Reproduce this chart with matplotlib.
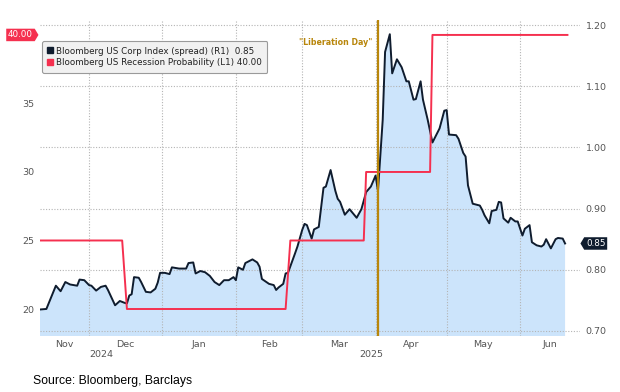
import matplotlib
matplotlib.use('Agg')
import matplotlib.pyplot as plt
import matplotlib.dates as mdates
import matplotlib.transforms as mtrans
from matplotlib.lines import Line2D
from matplotlib.path import Path
import pandas as pd

# Bloomberg US Corp Index OAS (right axis, %)
spread_dates = [
    '2024-11-10', '2024-11-13', '2024-11-15', '2024-11-17', '2024-11-19', '2024-11-21',
    '2024-11-23', '2024-11-26', '2024-11-27', '2024-11-29', '2024-12-01', '2024-12-02',
    '2024-12-04', '2024-12-06', '2024-12-08', '2024-12-09', '2024-12-12', '2024-12-14',
    '2024-12-16', '2024-12-17', '2024-12-18', '2024-12-19', '2024-12-20', '2024-12-22',
    '2024-12-23', '2024-12-25', '2024-12-27', '2024-12-29', '2024-12-30', '2024-12-31',
    '2025-01-02', '2025-01-04', '2025-01-05', '2025-01-08', '2025-01-11', '2025-01-12',
    '2025-01-14', '2025-01-15', '2025-01-17', '2025-01-19', '2025-01-21', '2025-01-23',
    '2025-01-25', '2025-01-27', '2025-01-29', '2025-01-31', '2025-02-01', '2025-02-02',
    '2025-02-04', '2025-02-05', '2025-02-08', '2025-02-10', '2025-02-11', '2025-02-12',
    '2025-02-15', '2025-02-17', '2025-02-18', '2025-02-19', '2025-02-21', '2025-02-22',
    '2025-02-23', '2025-02-25', '2025-02-26', '2025-02-27', '2025-03-01', '2025-03-02',
    '2025-03-03', '2025-03-05', '2025-03-06', '2025-03-08', '2025-03-10', '2025-03-11',
    '2025-03-13', '2025-03-15', '2025-03-16', '2025-03-17', '2025-03-19', '2025-03-21',
    '2025-03-24', '2025-03-26', '2025-03-28', '2025-03-30', '2025-04-01', '2025-04-02',
    '2025-04-04', '2025-04-05', '2025-04-07', '2025-04-08', '2025-04-10', '2025-04-12',
    '2025-04-14', '2025-04-15', '2025-04-17', '2025-04-18', '2025-04-20', '2025-04-21',
    '2025-04-23', '2025-04-25', '2025-04-28', '2025-04-30', '2025-05-01', '2025-05-02',
    '2025-05-05', '2025-05-06', '2025-05-08', '2025-05-09', '2025-05-10', '2025-05-12',
    '2025-05-15', '2025-05-16', '2025-05-17', '2025-05-19', '2025-05-20', '2025-05-22',
    '2025-05-23', '2025-05-24', '2025-05-25', '2025-05-27', '2025-05-28', '2025-05-30',
    '2025-05-31', '2025-06-02', '2025-06-03', '2025-06-05', '2025-06-06', '2025-06-08',
    '2025-06-10', '2025-06-11', '2025-06-12', '2025-06-14', '2025-06-16', '2025-06-17',
    '2025-06-19', '2025-06-20',
]
spread_vals = [
    0.735, 0.736, 0.755, 0.774, 0.765, 0.780,
    0.776, 0.774, 0.784, 0.783, 0.775, 0.774,
    0.766, 0.772, 0.774, 0.767, 0.742, 0.749,
    0.746, 0.745, 0.758, 0.760, 0.788, 0.787,
    0.780, 0.764, 0.763, 0.769, 0.779, 0.795,
    0.795, 0.793, 0.804, 0.802, 0.802, 0.811,
    0.812, 0.794, 0.798, 0.796, 0.790, 0.780,
    0.775, 0.783, 0.783, 0.788, 0.783, 0.804,
    0.800, 0.811, 0.817, 0.812, 0.805, 0.785,
    0.777, 0.775, 0.767, 0.771, 0.777, 0.794,
    0.795, 0.816, 0.827, 0.838, 0.865, 0.875,
    0.873, 0.851, 0.866, 0.870, 0.934, 0.936,
    0.963, 0.929, 0.916, 0.911, 0.890, 0.899,
    0.885, 0.899, 0.927, 0.936, 0.954, 0.929,
    1.045, 1.156, 1.185, 1.121, 1.144, 1.131,
    1.108, 1.108, 1.078, 1.079, 1.108, 1.078,
    1.045, 1.008, 1.031, 1.060, 1.061, 1.021,
    1.020, 1.014, 0.991, 0.985, 0.938, 0.908,
    0.905, 0.898, 0.889, 0.876, 0.896, 0.898,
    0.911, 0.910, 0.884, 0.877, 0.885, 0.879,
    0.879, 0.856, 0.867, 0.873, 0.845, 0.840,
    0.838, 0.841, 0.850, 0.835, 0.850, 0.852,
    0.851, 0.843,
]

# Bloomberg US Recession Probability (left axis, %)
recession_dates = ['2024-11-10', '2024-12-15', '2024-12-17', '2025-02-22', '2025-02-24',
                   '2025-03-27', '2025-03-28', '2025-04-24', '2025-04-25', '2025-06-21']
recession_vals = [25, 25, 20, 20, 25, 25, 30, 30, 40, 40]

liberation_day = '2025-04-02'
spread_last = '0.85'
recession_last = '40.00'
left_ticks = [20, 25, 30, 35]
right_ticks = [0.70, 0.80, 0.90, 1.00, 1.10, 1.20]
month_starts = ['2024-11-01', '2024-12-01', '2025-01-01', '2025-02-01', '2025-03-01',
                '2025-04-01', '2025-05-01', '2025-06-01', '2025-07-01']
month_names = ['Nov', 'Dec', 'Jan', 'Feb', 'Mar', 'Apr', 'May', 'Jun']
year_starts = ['2024-01-01', '2025-01-01', '2026-01-01']
year_names = ['2024', '2025']

RED = '#f5304f'
NAVY = '#0f1c2e'
FILL = '#cce4fb'
GOLD = '#b8860b'
GREY = '#555555'
GRID = '#b4b4b4'
FONT = 'DejaVu Sans'


def tag_right(x0, y0, width, height, mutation_size):
    pad = 0.2 * mutation_size
    x0, y0 = x0 - pad, y0 - pad
    x1, y1 = x0 + width + 2 * pad, y0 + height + 2 * pad
    tip = 0.3 * (y1 - y0)
    return Path([(x0, y0), (x1, y0), (x1 + tip, (y0 + y1) / 2), (x1, y1), (x0, y1), (x0, y0)],
                closed=True)


def tag_left(x0, y0, width, height, mutation_size):
    pad = 0.2 * mutation_size
    x0, y0 = x0 - pad, y0 - pad
    x1, y1 = x0 + width + 2 * pad, y0 + height + 2 * pad
    tip = 0.3 * (y1 - y0)
    return Path([(x0, y0), (x1, y0), (x1, y1), (x0, y1), (x0 - tip, (y0 + y1) / 2), (x0, y0)],
                closed=True)


sd = mdates.date2num(pd.to_datetime(spread_dates))
rd = mdates.date2num(pd.to_datetime(recession_dates))
lib = mdates.date2num(pd.Timestamp(liberation_day))
ms = mdates.date2num(pd.to_datetime(month_starts))
ys = mdates.date2num(pd.to_datetime(year_starts))
dec1 = mdates.date2num(pd.Timestamp('2024-12-01'))
x0, x1 = dec1 - 20.7, dec1 + 207.3

fig = plt.figure(figsize=(6.2, 3.92), dpi=100)
ax = fig.add_axes([40 / 620, 56 / 392, 540 / 620, 316 / 392])
ax2 = ax.twinx()
ax.set_zorder(1)
ax2.set_zorder(2)
ax2.patch.set_visible(False)

# spread: area + line on right scale
ax.fill_between(sd, spread_vals, 0.5, color=FILL, lw=0, zorder=1)
ax.plot(sd, spread_vals, color=NAVY, lw=1.4, zorder=3)
ax.set_ylim(0.6918, 1.2082)
ax.set_xlim(x0, x1)
ax.yaxis.tick_right()
ax.set_yticks(right_ticks, [f'{v:.2f}' for v in right_ticks])
ax.set_axisbelow(False)
ax.grid(axis='y', color=GRID, lw=0.8, ls=(0, (1, 1.5)))

# month labels centred on the visible part of each month
centers = [(max(ms[i], x0) + min(ms[i + 1], x1)) / 2 for i in range(len(month_names))]
ax.set_xticks(centers, month_names)
ax.set_xticks(ms[1:-1], minor=True)
ax.grid(axis='x', which='minor', color=GRID, lw=0.8, ls=(0, (1, 1.5)))
ax.tick_params(axis='both', which='both', length=0, labelsize=6.8, labelcolor=GREY)
ax.tick_params(axis='x', pad=3)
ax.tick_params(axis='y', pad=4)
for lab in ax.get_xticklabels() + ax.get_yticklabels():
    lab.set_fontfamily(FONT)

xt = mtrans.blended_transform_factory(ax.transData, ax.transAxes)
for i, yr in enumerate(year_names):
    c = (max(ys[i], x0) + min(ys[i + 1], x1)) / 2
    ax.text(c, -0.057, yr, transform=xt, ha='center', va='center',
            fontsize=6.8, color=GREY, family=FONT)

# recession probability on left scale
ax2.plot(rd, recession_vals, color=RED, lw=1.4, zorder=3)
ax2.set_ylim(18.03, 41.09)
ax2.yaxis.tick_left()
ax2.set_yticks(left_ticks, [str(v) for v in left_ticks])
ax2.tick_params(axis='y', length=0, labelsize=6.8, labelcolor=GREY, pad=4)
for lab in ax2.get_yticklabels():
    lab.set_fontfamily(FONT)

for a in (ax, ax2):
    for s in a.spines.values():
        s.set_visible(False)

# Liberation Day marker
ax2.axvline(lib, color=GOLD, lw=1.6, zorder=5)
ax2.annotate('"Liberation Day"', xy=(lib, 0.930), xycoords=xt, xytext=(-4, 0),
             textcoords='offset points', ha='right', va='center',
             fontsize=5.7, color=GOLD, family=FONT, fontweight='semibold')

# last value tags
lt = mtrans.blended_transform_factory(ax2.transAxes, ax2.transData)
ax2.text(-0.013, recession_vals[-1], recession_last, transform=lt, ha='right', va='center',
         fontsize=6.3, color='white', family=FONT,
         bbox=dict(boxstyle=tag_right, fc=RED, ec='none'), clip_on=False)
rt = mtrans.blended_transform_factory(ax.transAxes, ax.transData)
ax.text(1.011, spread_vals[-1], spread_last, transform=rt, ha='left', va='center',
        fontsize=6.3, color='white', family=FONT,
        bbox=dict(boxstyle=tag_left, fc=NAVY, ec='none'), clip_on=False)

# legend
handles = [Line2D([], [], marker='s', ls='none', color=NAVY, markersize=4.5),
           Line2D([], [], marker='s', ls='none', color=RED, markersize=4.5)]
labels = [f'Bloomberg US Corp Index (spread) (R1)  {spread_last}',
          f'Bloomberg US Recession Probability (L1) {recession_last}']
leg = ax2.legend(handles, labels, loc='upper left', bbox_to_anchor=(0.004, 0.934),
                 borderaxespad=0, frameon=True, fancybox=True, framealpha=1,
                 facecolor='#f1f1f1', edgecolor='#9a9a9a', handlelength=0.6,
                 handletextpad=0.3, labelspacing=0.3, borderpad=0.65,
                 prop={'family': FONT, 'size': 6.3})
leg.get_frame().set_linewidth(0.8)
for t in leg.get_texts():
    t.set_color('#222222')

fig.text(33 / 620, 1 - 381 / 392, 'Source: Bloomberg, Barclays', ha='left', va='center',
         fontsize=8.8, family='Liberation Sans', color='black')

fig.savefig('out.png', dpi=100)
